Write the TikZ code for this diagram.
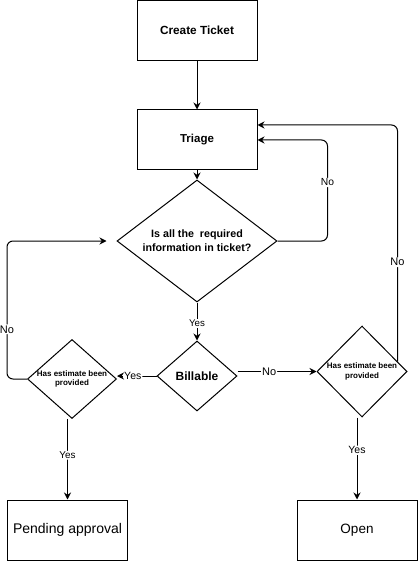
\documentclass[tikz,border=0pt]{standalone}
\usepackage{fontspec}
\setmainfont{Liberation Sans}
\usetikzlibrary{shapes.geometric,arrows.meta,calc}
\begin{document}
\begin{tikzpicture}[x=1pt,y=-1pt,
  box/.style={draw,line width=1pt,rectangle,minimum width=120pt,minimum height=60pt,inner sep=0pt},
  dia/.style={draw,line width=1pt,diamond,inner sep=0pt},
  arr/.style={line width=1pt,-{Stealth[length=7pt,width=7pt]},rounded corners=6pt},
  lbl/.style={fill=white,inner sep=1pt,font=\fontsize{10.5}{12}\selectfont}
]
\useasboundingbox (0,0) rectangle (418,561);
\node[box,font=\bfseries\fontsize{11.8}{14}\selectfont] (ct) at (197,30.5) {Create Ticket};
\node[box,font=\bfseries\fontsize{11.5}{14}\selectfont] (tri) at (197,140) {Triage};
\node[box,font=\fontsize{14}{16}\selectfont] (pend) at (67.5,530) {Pending approval};
\node[box,font=\fontsize{13.5}{16}\selectfont] (open) at (357,530) {Open};

\node[dia,minimum width=160pt,minimum height=122pt,
  label={[align=center,font=\bfseries\fontsize{10.7}{13.7}\selectfont]center:Is all the\ \ required\\information in ticket?}] (d1) at (197,241) {};
\node[dia,minimum width=80pt,minimum height=70pt,
  label={[font=\bfseries\fontsize{12}{14}\selectfont]center:Billable}] (bil) at (197,376) {};
\node[dia,minimum width=89pt,minimum height=79pt,
  label={[align=center,font=\bfseries\fontsize{8}{9.3}\selectfont]center:Has estimate been\\provided}] (d2) at (72,379) {};
\node[dia,minimum width=90pt,minimum height=91pt,
  label={[align=center,font=\bfseries\fontsize{8}{9.3}\selectfont]center:Has estimate been\\provided}] (d3) at (362,371.5) {};

\coordinate (d1in) at ([xshift=-10pt]d1.west);

\draw[arr] (ct) -- (tri);
\draw[arr] (tri) -- (d1);
\draw[arr] (d1.east) -- ++(50,0) |- (tri.east)
  node[lbl,pos=0.29,font=\fontsize{10.3}{12}\selectfont] {No};
\draw[arr] ([xshift=-10pt,yshift=10pt]d3.east) |- ([yshift=15pt]tri.east)
  node[lbl,pos=0.21,font=\fontsize{11}{12}\selectfont] {No};
\draw[arr] (d1.south) -- (bil.north)
  node[lbl,pos=0.55,font=\fontsize{9.7}{12}\selectfont] {Yes};
\draw[arr] (bil.west) -- (bil.west -| d2.east)
  node[lbl,pos=0.6] {Yes};
\draw[arr] (d3.west -| bil.east) -- (d3.west)
  node[lbl,pos=0.4,font=\fontsize{11}{12}\selectfont] {No};
\draw[arr] (d2.west) -- ++(-20,0) |- (d1in)
  node[lbl,pos=0.18,font=\fontsize{11}{12}\selectfont] {No};
\draw[arr] (pend.north |- d2.south) -- (pend.north)
  node[lbl,pos=0.45,font=\fontsize{9.9}{12}\selectfont] {Yes};
\draw[arr] (open.north |- d3.south) -- (open.north)
  node[lbl,pos=0.4] {Yes};
\end{tikzpicture}
\end{document}
